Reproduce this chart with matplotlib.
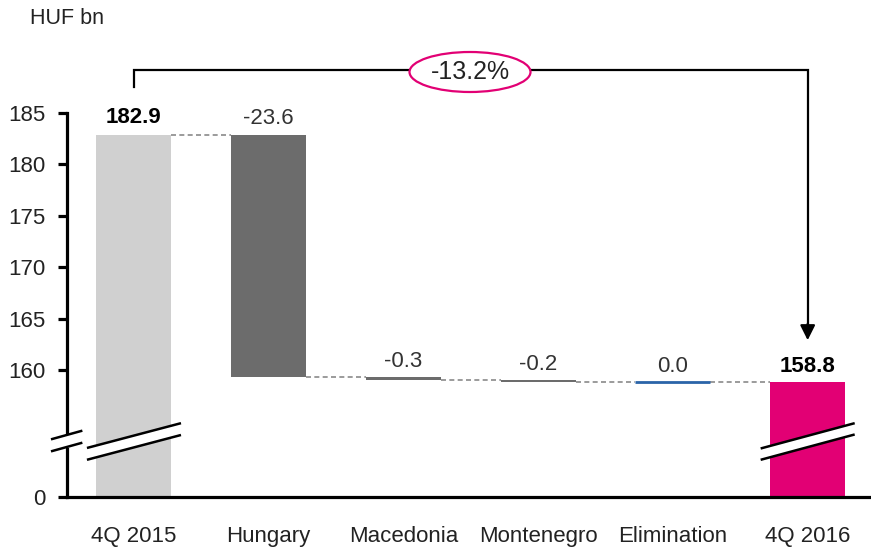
import matplotlib
matplotlib.use("Agg")
import matplotlib.pyplot as plt
from matplotlib.patches import Ellipse, Polygon, Rectangle
import numpy as np

plt.rcParams['font.family'] = ['Liberation Sans', 'DejaVu Sans']

categories = ['4Q 2015', 'Hungary', 'Macedonia', 'Montenegro', 'Elimination', '4Q 2016']
start_val = 182.9
deltas = [-23.6, -0.3, -0.2, 0.0]
end_val = 158.8
change_label = '-13.2%'
yticks_vals = [160, 165, 170, 175, 180, 185]

# broken axis: value 0 is drawn at this level
base = 147.65

c_total = '#d0d0d0'
c_delta = '#6c6c6c'
c_elim = '#2a64a8'
c_end = '#e20074'

fig = plt.figure(figsize=(8.71, 5.49), dpi=100)
ax = fig.add_axes([67/871, 52/549, 804/871, 384/549])
ax.set_xlim(-0.497, 5.47)
ax.set_ylim(base, 185)

w = 0.557
x = np.arange(len(categories))

# totals
ax.bar(x[0], start_val - base, bottom=base, width=w, color=c_total, zorder=2)
ax.bar(x[-1], end_val - base, bottom=base, width=w, color=c_end, zorder=2)

# deltas
levels = [start_val]
for d in deltas:
    levels.append(levels[-1] + d)
for i, d in enumerate(deltas):
    xi = x[i + 1]
    top = levels[i]
    bot = levels[i + 1]
    if d == 0:
        ax.hlines(top, xi - w/2, xi + w/2, color=c_elim, lw=2, zorder=3)
    else:
        ax.bar(xi, bot - top, bottom=top, width=w, color=c_delta, zorder=2)

# dashed connectors
for i in range(len(categories) - 1):
    lvl = levels[i] if i < len(levels) else end_val
    ax.hlines(lvl, x[i] + w/2, x[i + 1] - w/2, color='#8a8a8a', lw=1.2,
              linestyles=(0, (3, 2)), zorder=1)

# value labels
fs = 16
ax.annotate(f'{start_val:.1f}', (x[0], start_val), xytext=(0, 5), textcoords='offset points',
            ha='center', va='bottom', fontsize=fs, color='black', fontweight='bold')
for i, d in enumerate(deltas):
    ax.annotate(f'{d:.1f}', (x[i + 1], levels[i]), xytext=(0, 4), textcoords='offset points',
                ha='center', va='bottom', fontsize=fs, color='#333333')
ax.annotate(f'{end_val:.1f}', (x[-1], end_val), xytext=(0, 4), textcoords='offset points',
            ha='center', va='bottom', fontsize=fs, color='black', fontweight='bold')

# axes styling
for s in ['top', 'right']:
    ax.spines[s].set_visible(False)
ax.spines['left'].set_linewidth(2.3)
ax.spines['bottom'].set_linewidth(2.3)
ax.set_yticks([base] + yticks_vals)
ax.set_yticklabels(['0'] + [str(v) for v in yticks_vals])
ax.tick_params(axis='y', length=6.5, width=2.3, pad=9, labelsize=fs, labelcolor='#222222')
ax.set_xticks(x)
ax.set_xticklabels(categories)
ax.tick_params(axis='x', length=0, pad=21, labelsize=fs, labelcolor='#222222')

# break marks (bars and y axis)
def slash_break(xl, xr, y_lo, y_hi, gap):
    poly = Polygon([(xl, y_lo), (xr, y_hi), (xr, y_hi - gap), (xl, y_lo - gap)],
                   closed=True, fc='white', ec='none', zorder=4, clip_on=False)
    ax.add_patch(poly)
    ax.plot([xl, xr], [y_lo, y_hi], color='black', lw=1.8, zorder=5, clip_on=False)
    ax.plot([xl, xr], [y_lo - gap, y_hi - gap], color='black', lw=1.8, zorder=5, clip_on=False)

slash_break(x[0] - 0.34, x[0] + 0.34, 152.45, 154.8, 1.15)
slash_break(x[-1] - 0.34, x[-1] + 0.34, 152.4, 154.8, 1.1)
# y axis break
xa0 = ax.get_xlim()[0]
ax.add_patch(Rectangle((xa0 - 0.03, 152.45), 0.06, 1.1, fc='white', ec='none',
                       zorder=4, clip_on=False))
slash_break(xa0 - 0.11, xa0 + 0.105, 153.29, 154.07, 1.17)

# bracket with arrow
y_top = 189.2
ax.plot([x[0], x[0], x[-1], x[-1]], [187.5, y_top, y_top, 164.0], color='black', lw=1.6,
        clip_on=False, zorder=5, solid_joinstyle='miter')
ax.annotate('', xy=(x[-1], 162.9), xytext=(x[-1], 164.5),
            arrowprops=dict(arrowstyle='-|>,head_length=0.9,head_width=0.45', color='black',
                            lw=1.6, shrinkA=0, shrinkB=0), annotation_clip=False)
fig.patches.append(Ellipse((470/871, 1 - 72/549), 121/871, 40/549, transform=fig.transFigure,
                           fc='white', ec=c_end, lw=1.6, zorder=6))
fig.text(470/871, 1 - 72/549, change_label, ha='center', va='center', fontsize=18,
         color='#222222', zorder=7)

fig.text(30/871, 1 - 18/549, 'HUF bn', ha='left', va='center', fontsize=15.5, color='#222222')

fig.savefig('out.png', dpi=100)
